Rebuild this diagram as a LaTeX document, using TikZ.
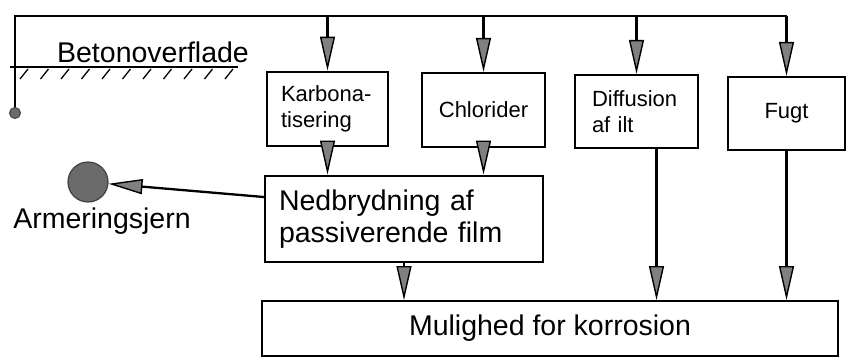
\documentclass[tikz,border=0pt]{standalone}
\usepackage{fontspec}
\setmainfont{Liberation Sans}
\usetikzlibrary{arrows.meta}
\definecolor{tipgray}{gray}{0.5}
\definecolor{bargray}{gray}{0.42}

\begin{document}
\begin{tikzpicture}[x=1pt, y=-1pt, line width=2.3pt,
  box/.style={draw, inner sep=14pt, font=\fontsize{22}{26}\selectfont},
  big/.style={font=\fontsize{28.5}{32}\selectfont},
  feed/.style={-{Triangle[length=34pt, width=15pt, fill=tipgray, line width=1.4pt]}}]
\useasboundingbox (0,0) rectangle (850,357);

\coordinate (busL) at (15,16);
\coordinate (busR) at (787,16);
\coordinate (pin) at (15,113);

\node[box, minimum width=121pt, minimum height=74pt, text width=93pt, align=left] (karb) at (327.5,109) {Karbona-\\tisering};
\node[box, minimum width=123pt, minimum height=74pt] (chlor) at (483.5,110) {Chlorider};
\node[box, inner xsep=17pt, minimum width=123pt, minimum height=73pt, text width=89pt, align=left] (diff) at (636.5,111.5) {Diffusion\\af ilt};
\node[box, minimum width=117pt, minimum height=73pt] (fugt) at (786.5,113.5) {Fugt};
\node[box, big, minimum width=278pt, minimum height=82pt, text width=250pt, align=left] (nedb) at (404,219) {Nedbrydning af\\passiverende film};
\node[box, big, minimum width=576pt, minimum height=47pt] (mul) at (550,328.5) {Mulighed for korrosion};

\node[circle, draw=black!75, fill=bargray, line width=1.2pt, minimum size=40pt, inner sep=0pt] (armering) at (88,182) {};
\node[big] (armtxt) at (102,221) {Armeringsjern};
\node[big] (betontxt) at (153,52) {Betonoverflade};

\draw (pin) -- (busL) -- (busR);
\filldraw[fill=bargray, draw=black!75, line width=1pt] (pin) circle (5.5pt);

\draw (10,67) -- (238,67);
\foreach \i in {0,...,10}
  \draw[line width=1.3pt] ({28+20.5*\i},69) -- ++(-8,10);

\draw[feed] (karb.north |- busL) -- (karb.north);
\draw[feed] (chlor.north |- busL) -- (chlor.north);
\draw[feed] (diff.north |- busL) -- (diff.north);
\draw[feed] (fugt.north |- busL) -- (fugt.north);

\draw[feed] (karb.south) -- (karb.south |- nedb.north);
\draw[feed] (chlor.south) -- (chlor.south |- nedb.north);
\draw[feed] (nedb.south) -- (nedb.south |- mul.north);
\draw[feed] ([xshift=20pt]diff.south) -- ([xshift=20pt]diff.south |- mul.north);
\draw[feed] (fugt.south) -- (fugt.south |- mul.north);
\draw[feed] ([yshift=22pt]nedb.west) -- (armering);
\end{tikzpicture}
\end{document}
